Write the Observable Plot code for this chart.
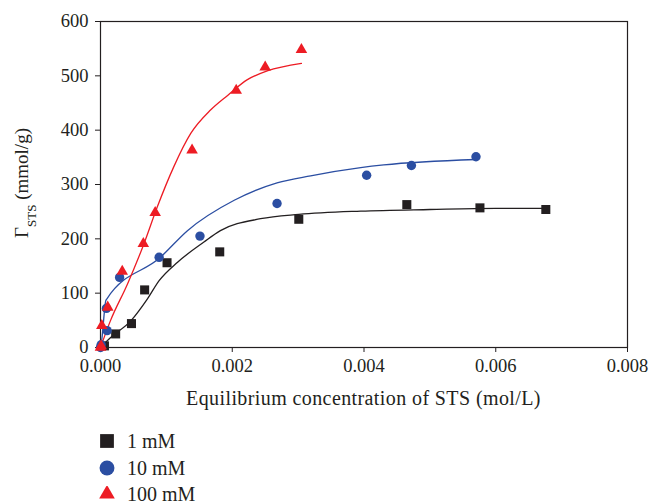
<!DOCTYPE html>
<html>
<head>
<meta charset="utf-8">
<script src="https://cdn.jsdelivr.net/npm/d3@7"></script>
<script src="https://cdn.jsdelivr.net/npm/@observablehq/plot@0.6"></script>
<style>
  body { margin: 0; background: #fff; font-family: "Liberation Serif", "DejaVu Serif", serif; }
  #chart { position: relative; width: 650px; height: 503px; }
  .legend { position: absolute; left: 0; top: 0; font-size: 20px; color: #231f20; }
  .legend .row { position: absolute; left: 99px; height: 26px; line-height: 26px; display: flex; align-items: center; white-space: nowrap; }
  .legend svg { margin-right: 12px; }
</style>
</head>
<body>
<div id="chart"></div>
<script>
// Series names
const seriesNames = ["1 mM", "10 mM", "100 mM"];

// 1 mM (squares)
const sq_x = [0.00006, 0.00023, 0.00047, 0.00067, 0.00101, 0.00181, 0.00301, 0.00465, 0.00576, 0.00676];
const sq_y = [3, 25, 44, 106, 156, 176, 236, 263, 257, 254];

// 10 mM (circles)
const ci_x = [0.00000, 0.00001, 0.00010, 0.00009, 0.00029, 0.00089, 0.00151, 0.00268, 0.00404, 0.00472, 0.00570];
const ci_y = [0, 5, 31, 72, 129, 166, 205, 265, 317, 335, 351];

// 100 mM (triangles)
const tr_x = [0.00000, 0.00001, 0.00002, 0.00011, 0.00033, 0.00065, 0.00083, 0.00139, 0.00206, 0.00250, 0.00305];
const tr_y = [0, 3, 40, 74, 140, 191, 248, 363, 473, 516, 548];

// fitted curves
const fit1_x = [0, 0.00015, 0.00046, 0.00071, 0.00089, 0.00117, 0.00157, 0.00182, 0.00243, 0.00301, 0.00395, 0.00500, 0.00600, 0.00676];
const fit1_y = [0, 18, 49, 89, 123, 157, 194, 215, 237, 245, 251, 254, 256, 256];
const fit2_x = [0, 0.00002, 0.00008, 0.00010, 0.00091, 0.00132, 0.00203, 0.00268, 0.00319, 0.00395, 0.00430, 0.00570];
const fit2_y = [0, 15, 86, 90, 166, 215, 271, 303, 316, 331, 336, 346];
const fit3_x = [0, 0.00015, 0.00041, 0.00066, 0.00086, 0.00111, 0.00137, 0.00167, 0.00193, 0.00223, 0.00253, 0.00305];
const fit3_y = [0, 49, 117, 191, 258, 332, 394, 437, 464, 493, 509, 523];

// Axis ticks
const xTicks = [0, 0.002, 0.004, 0.006, 0.008];
const yTicks = [0, 100, 200, 300, 400, 500, 600];

const xLabel = "Equilibrium concentration of STS (mol/L)";

const colors = ["#231f20", "#2b4ea2", "#ed1c24"];
const symbols = ["square", "circle", "triangle"];

const zip = (xs, ys) => xs.map((x, i) => ({x, y: ys[i]}));
const pts = [zip(sq_x, sq_y), zip(ci_x, ci_y), zip(tr_x, tr_y)];
const fits = [zip(fit1_x, fit1_y), zip(fit2_x, fit2_y), zip(fit3_x, fit3_y)];

const plot = Plot.plot({
  width: 650,
  height: 415,
  marginLeft: 100,
  marginRight: 23,
  marginTop: 21,
  marginBottom: 68,
  style: {fontFamily: "Liberation Serif, serif", fontSize: "18.5px", color: "#231f20", background: "#fff"},
  x: {domain: [0, 0.008], ticks: xTicks, tickFormat: d3.format(".3f"), tickSize: 5, tickPadding: 6, label: null},
  y: {domain: [0, 600], ticks: yTicks, tickSize: 5, tickPadding: 7, label: null},
  marks: [
    Plot.frame({stroke: "#231f20", strokeWidth: 1.2}),
    ...fits.map((f, i) => Plot.line(f, {x: "x", y: "y", stroke: colors[i], strokeWidth: 1.3, curve: "monotone-x"})),
    ...pts.map((p, i) => Plot.dot(p, {x: "x", y: "y", symbol: () => symbols[i], fill: colors[i], stroke: "none",
        r: i === 0 ? 5.1 : (i === 1 ? 4.7 : 4.3)}))
  ]
});

const svg = d3.select(plot);
// X axis label
svg.append("text")
  .attr("x", 363.5).attr("y", 405)
  .attr("text-anchor", "middle")
  .attr("fill", "#231f20")
  .style("font-family", "Liberation Serif, serif")
  .style("font-size", "20px")
  .style("letter-spacing", "0.4px")
  .text(xLabel);

// Y axis label with subscript
const yl = svg.append("text")
  .attr("transform", "translate(28,183) rotate(-90)")
  .attr("text-anchor", "middle")
  .attr("fill", "#231f20")
  .style("font-family", "Liberation Serif, serif")
  .style("font-size", "19px");
yl.append("tspan").text("Γ");
yl.append("tspan").attr("baseline-shift", "sub").style("font-size", "13px").text("STS");
yl.append("tspan").text(" (mmol/g)");

document.getElementById("chart").appendChild(plot);

// Legend
const legend = d3.select("#chart").append("div").attr("class", "legend");
const rowCenters = [440.5, 467.5, 493.5];
seriesNames.forEach((name, i) => {
  const row = legend.append("div").attr("class", "row").style("top", (rowCenters[i] - 13) + "px");
  const s = row.append("svg").attr("width", 16).attr("height", 16);
  s.append("path")
    .attr("transform", "translate(8,8)")
    .attr("d", d3.symbol(i === 0 ? d3.symbolSquare : (i === 1 ? d3.symbolCircle : d3.symbolTriangle2), i === 0 ? 190 : 175)())
    .attr("fill", colors[i]);
  row.append("span").text(name);
});
</script>
</body>
</html>
